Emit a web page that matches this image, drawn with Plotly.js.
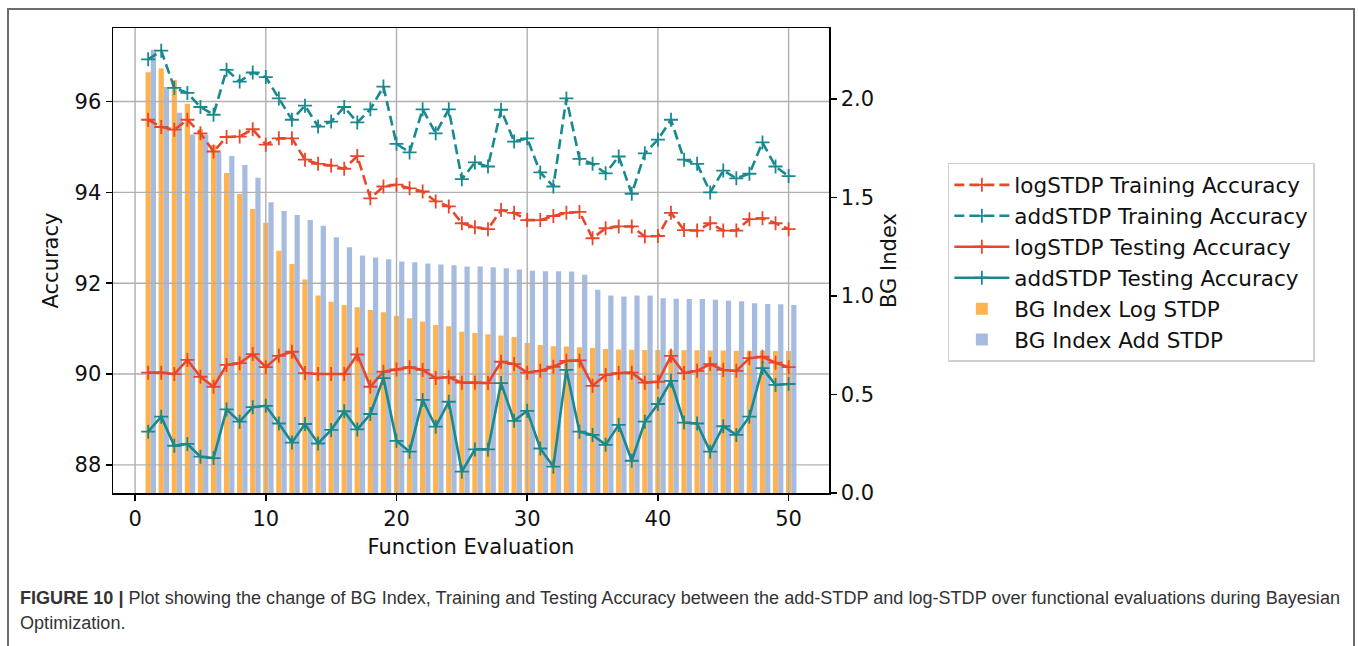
<!DOCTYPE html>
<html>
<head>
<meta charset="utf-8">
<script src="https://cdn.plot.ly/plotly-3.0.1.min.js"></script>
<style>
  html, body { margin: 0; padding: 0; background: #fff; overflow: hidden; }
  #frame { position: absolute; left: 7px; top: 8px; width: 1348px; height: 700px;
           border: 2px solid #6b6b6b; box-sizing: border-box; }
  #chart { position: absolute; left: 0; top: 0; width: 1358px; height: 646px; }
  .cap { position: absolute; left: 20px; white-space: nowrap; transform-origin: 0 0;
         font-family: 'Liberation Sans Narrow', 'Arial Narrow', 'Liberation Sans', sans-serif;
         font-size: 18px; color: #333; }
</style>
</head>
<body>
<div id="frame"></div>
<div id="chart"></div>
<div class="cap" id="cap1" style="top:588px"><b>FIGURE 10 |</b> Plot showing the change of BG Index, Training and Testing Accuracy between the add-STDP and log-STDP over functional evaluations during Bayesian</div>
<div class="cap" id="cap2" style="top:613px">Optimization.</div>
<script>
// Function evaluations 1..50
const evals = [1,2,3,4,5,6,7,8,9,10,11,12,13,14,15,16,17,18,19,20,
               21,22,23,24,25,26,27,28,29,30,31,32,33,34,35,36,37,38,39,40,
               41,42,43,44,45,46,47,48,49,50];

// Accuracy (%) per evaluation
const logTrain = [95.60,95.44,95.38,95.60,95.30,94.90,95.22,95.23,95.39,95.05,
                  95.19,95.19,94.72,94.63,94.59,94.52,94.80,93.87,94.13,94.17,
                  94.09,94.02,93.80,93.69,93.32,93.23,93.19,93.61,93.55,93.39,
                  93.39,93.48,93.55,93.57,92.99,93.21,93.25,93.25,93.03,93.04,
                  93.55,93.17,93.16,93.32,93.16,93.16,93.41,93.43,93.32,93.19];
const addTrain = [96.93,97.12,96.30,96.19,95.88,95.71,96.70,96.44,96.64,96.54,
                  96.07,95.60,95.91,95.45,95.56,95.88,95.54,95.83,96.33,95.07,
                  94.88,95.83,95.30,95.83,94.29,94.66,94.57,95.82,95.12,95.19,
                  94.44,94.13,96.07,94.74,94.63,94.42,94.79,93.97,94.86,95.16,
                  95.60,94.72,94.63,94.00,94.48,94.31,94.41,95.10,94.57,94.36];
const logTest  = [90.03,90.03,90.00,90.31,89.94,89.72,90.20,90.24,90.44,90.15,
                  90.40,90.49,90.02,90.00,90.00,90.00,90.43,89.72,90.05,90.10,
                  90.15,90.09,89.91,89.93,89.81,89.81,89.80,90.27,90.22,90.03,
                  90.07,90.16,90.29,90.30,89.74,89.98,90.02,90.03,89.81,89.83,
                  90.40,90.02,90.07,90.22,90.09,90.07,90.35,90.38,90.25,90.15];
const addTest  = [88.73,89.06,88.42,88.46,88.18,88.15,89.22,88.95,89.27,89.30,
                  88.91,88.49,88.90,88.47,88.77,89.18,88.78,89.12,89.91,88.53,
                  88.29,89.43,88.84,89.39,87.85,88.34,88.34,89.80,88.97,89.19,
                  88.36,87.96,90.09,88.73,88.66,88.44,88.88,88.09,88.95,89.34,
                  89.85,88.93,88.91,88.29,88.85,88.66,89.06,90.13,89.76,89.78];

// BG index per evaluation
const bgLog = [2.136,2.156,2.096,1.975,1.848,1.766,1.624,1.518,1.442,1.371,
               1.230,1.162,1.083,1.002,0.971,0.954,0.943,0.929,0.917,0.900,
               0.887,0.870,0.853,0.846,0.819,0.812,0.806,0.799,0.792,0.761,
               0.751,0.745,0.743,0.740,0.736,0.731,0.728,0.727,0.726,0.726,
               0.725,0.724,0.724,0.723,0.723,0.722,0.722,0.722,0.721,0.721];
const bgAdd = [2.250,2.060,1.930,1.820,1.820,1.730,1.710,1.665,1.600,1.476,
               1.431,1.411,1.386,1.357,1.298,1.247,1.205,1.195,1.186,1.175,
               1.171,1.165,1.160,1.156,1.150,1.149,1.146,1.141,1.134,1.128,
               1.125,1.125,1.124,1.108,1.032,1.002,0.997,1.003,1.002,0.988,
               0.986,0.985,0.985,0.981,0.976,0.973,0.963,0.959,0.958,0.954];

// Tick labels
const xTicks = [0,10,20,30,40,50];
const accTicks = [88,90,92,94,96];
const bgTicks = [0,0.5,1.0,1.5,2.0];
const bgTickText = ['0.0','0.5','1.0','1.5','2.0'];

const xRange = [-1.69, 53.09];
const accRange = [87.38, 97.62];
const bgRange = [0, 2.36];

const RED = '#e8472b', TEAL = '#18898e', ORANGE = '#ffb250', BLUE = '#a5bce0';
const GRID = '#b0b0b0';

// Grid lines belong to the accuracy axes and sit above the bars, under the curves
const gx = [], gy = [];
accTicks.forEach(t => { gx.push(xRange[0], xRange[1], null); gy.push(t, t, null); });
xTicks.forEach(t => { gx.push(t, t, null); gy.push(accRange[0], accRange[1], null); });

function curve(name, ys, color, dashed, rank) {
  return {
    type: 'scatter', mode: 'lines+markers', name: name,
    x: evals, y: ys, xaxis: 'x', yaxis: 'y2', legendrank: rank,
    line: { color: color, width: 2.6, dash: dashed ? '10px,5px' : 'solid' },
    marker: { symbol: 'cross-thin', size: 10, color: color, line: { color: color, width: 1.8 } },
    cliponaxis: false, hoverinfo: 'x+y'
  };
}

const data = [
  { type: 'bar', name: 'BG Index Log STDP', x: evals, y: bgLog, width: 0.4, offset: -0.2,
    marker: { color: ORANGE, line: { width: 0 } }, xaxis: 'x', yaxis: 'y', legendrank: 5 },
  { type: 'bar', name: 'BG Index Add STDP', x: evals, y: bgAdd, width: 0.4, offset: 0.2,
    marker: { color: BLUE, line: { width: 0 } }, xaxis: 'x', yaxis: 'y', legendrank: 6 },
  { type: 'scatter', mode: 'lines', x: gx, y: gy, xaxis: 'x', yaxis: 'y2',
    line: { color: GRID, width: 1.4 }, showlegend: false, hoverinfo: 'skip', connectgaps: false },
  curve('logSTDP Training Accuracy', logTrain, RED, true, 1),
  curve('addSTDP Training Accuracy', addTrain, TEAL, true, 2),
  curve('logSTDP Testing Accuracy', logTest, RED, false, 3),
  curve('addSTDP Testing Accuracy', addTest, TEAL, false, 4)
];

const axisFont = { family: 'DejaVu Sans', size: 21, color: '#111' };
const legendFont = { family: 'DejaVu Sans', size: 21.5, color: '#111' };
const layout = {
  width: 1358, height: 646,
  margin: { l: 113, r: 529, t: 28, b: 153, pad: 0 },
  paper_bgcolor: 'rgba(0,0,0,0)', plot_bgcolor: 'rgba(0,0,0,0)',
  font: axisFont,
  barmode: 'overlay',
  showlegend: true,
  legend: { x: 1.166, y: 0.71, xanchor: 'left', yanchor: 'top', bgcolor: '#ffffff',
            bordercolor: '#cfcfcf', borderwidth: 1.5, font: legendFont, traceorder: 'normal',
            itemwidth: 55 },
  xaxis: { range: xRange, tickvals: xTicks, ticks: 'outside', ticklen: 6, tickwidth: 1.5,
           tickcolor: '#000', showline: true, linecolor: '#000', linewidth: 1.5, mirror: true,
           showgrid: false, zeroline: false, tickfont: axisFont,
           title: { text: 'Function Evaluation', font: axisFont, standoff: 9 } },
  yaxis: { side: 'right', range: bgRange, tickvals: bgTicks, ticktext: bgTickText,
           ticks: 'outside', ticklen: 6, tickwidth: 1.5, tickcolor: '#000',
           showline: true, linecolor: '#000', linewidth: 1.5, showgrid: false, zeroline: false,
           tickfont: axisFont, title: { text: 'BG Index', font: axisFont, standoff: 8 } },
  yaxis2: { overlaying: 'y', side: 'left', range: accRange, tickvals: accTicks,
            ticks: 'outside', ticklen: 6, tickwidth: 1.5, tickcolor: '#000',
            showline: true, linecolor: '#000', linewidth: 1.5, showgrid: false, zeroline: false,
            tickfont: axisFont, title: { text: 'Accuracy', font: axisFont, standoff: 10 } }
};

Plotly.newPlot('chart', data, layout, { displayModeBar: false, staticPlot: true });

// Fit the caption's first line to the frame width
const c1 = document.getElementById('cap1'), c2 = document.getElementById('cap2');
const s = 1320 / c1.getBoundingClientRect().width;
c1.style.transform = 'scaleX(' + s + ')';
c2.style.transform = 'scaleX(' + s + ')';
</script>
</body>
</html>
